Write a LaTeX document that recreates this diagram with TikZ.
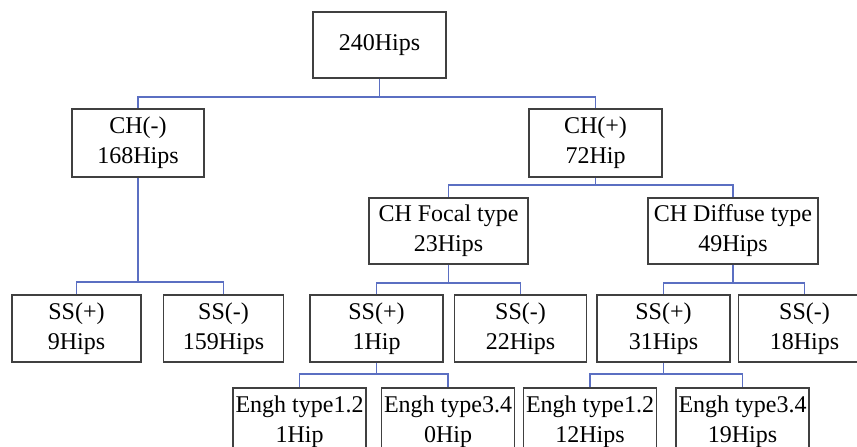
\documentclass[tikz,border=0pt]{standalone}
\usepackage{fontspec}
\setmainfont{Liberation Serif}
\usepackage{tikz}
\usetikzlibrary{positioning}
\definecolor{linkblue}{HTML}{5B6FC2}
\definecolor{boxgray}{HTML}{404040}
\tikzset{
  hipbox/.style={draw=boxgray, line width=1.5pt, align=center, inner sep=1pt, minimum height=67pt, font=\fontsize{24}{30}\selectfont},
  link/.style={draw=linkblue, line width=1.6pt}
}

\begin{document}
\begin{tikzpicture}[
    x=1pt, y=-1pt, % pixel coordinates, y going down
    node distance=10pt and 10pt
]
    \useasboundingbox (0,0) rectangle (857,447);
    \clip (0,0) rectangle (857,447);

    % Define nodes
    \node (root) [hipbox, minimum width=133pt, minimum height=66pt] at (379.5,45) {240Hips};
    \node (chneg) [hipbox, minimum width=132pt, minimum height=68pt] at (138,143) {CH(-)\\168Hips};
    \node (chpos) [hipbox, minimum width=133pt, minimum height=68pt] at (595.5,143) {CH(+)\\72Hip};
    \node (focal) [hipbox, minimum width=159pt, minimum height=66pt] at (448.5,231) {CH Focal type\\23Hips};
    \node (diffuse) [hipbox, minimum width=170pt, minimum height=66pt] at (733,231) {CH Diffuse type\\49Hips};
    \node (ssa) [hipbox, minimum width=129pt] at (76.5,328.5) {SS(+)\\9Hips};
    \node (ssb) [hipbox, minimum width=120pt, right=21pt of ssa] {SS(-)\\159Hips};
    \node (ssc) [hipbox, minimum width=133pt] at (376.5,328.5) {SS(+)\\1Hip};
    \node (ssd) [hipbox, minimum width=132pt, right=10pt of ssc] {SS(-)\\22Hips};
    \node (sse) [hipbox, minimum width=133pt] at (663.5,328.5) {SS(+)\\31Hips};
    \node (ssf) [hipbox, minimum width=132pt, right=7pt of sse] {SS(-)\\18Hips};
    \node (engha) [hipbox, minimum width=133pt, minimum height=68pt] at (299.5,422) {Engh type1.2\\1Hip};
    \node (enghb) [hipbox, minimum width=133pt, minimum height=68pt, right=14pt of engha] {Engh type3.4\\0Hip};
    \node (enghc) [hipbox, minimum width=133pt, minimum height=68pt] at (590,422) {Engh type1.2\\12Hips};
    \node (enghd) [hipbox, minimum width=133pt, minimum height=68pt, right=18pt of enghc] {Engh type3.4\\19Hips};

    % Draw edges
    \draw[link] (root.south) -- ++(0,-18pt) -| (chneg.north);
    \draw[link] (root.south) -- ++(0,-18pt) -| (chpos.north);
    \draw[link] (chneg.south) -- ++(0,-104pt) -| (ssa.north);
    \draw[link] (chneg.south) -- ++(0,-104pt) -| (ssb.north);
    \draw[link] (chpos.south) -- ++(0,-7pt) -| (focal.north);
    \draw[link] (chpos.south) -- ++(0,-7pt) -| (diffuse.north);
    \draw[link] (focal.south) -- ++(0,-18pt) -| (ssc.north);
    \draw[link] (focal.south) -- ++(0,-18pt) -| (ssd.north);
    \draw[link] (diffuse.south) -- ++(0,-18pt) -| (sse.north);
    \draw[link] (diffuse.south) -- ++(0,-18pt) -| (ssf.north);
    \draw[link] (ssc.south) -- ++(0,-11pt) -| (engha.north);
    \draw[link] (ssc.south) -- ++(0,-11pt) -| (enghb.north);
    \draw[link] (sse.south) -- ++(0,-11pt) -| (enghc.north);
    \draw[link] (sse.south) -- ++(0,-11pt) -| (enghd.north);

\end{tikzpicture}
\end{document}
